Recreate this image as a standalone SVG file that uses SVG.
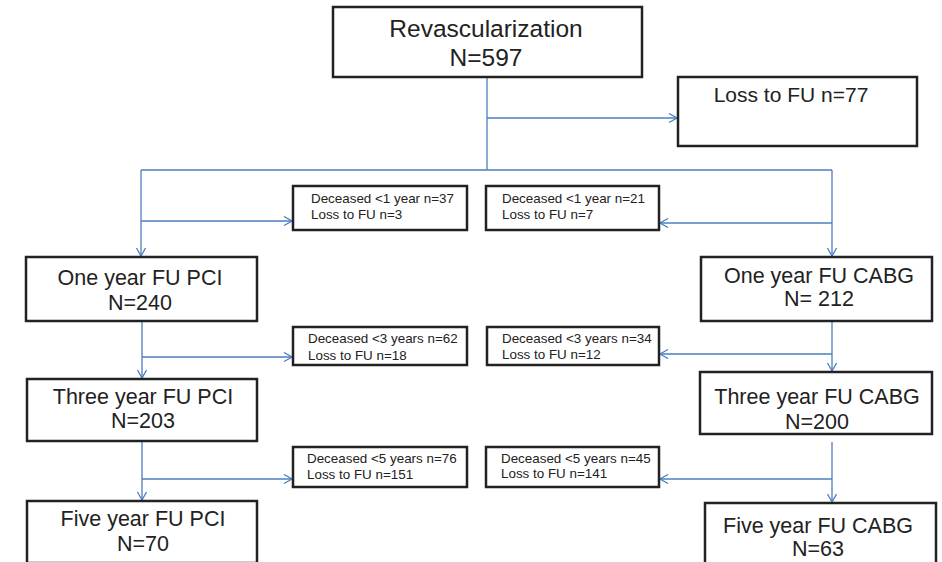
<svg xmlns="http://www.w3.org/2000/svg" width="942" height="562" viewBox="0 0 942 562">
<style>
.box{fill:#fff;stroke:#222;stroke-width:2.5}
.big{font-family:"Liberation Sans",Arial,sans-serif;font-size:21.5px;fill:#222;text-anchor:middle}
.top{font-family:"Liberation Sans",Arial,sans-serif;font-size:24.5px;fill:#222;text-anchor:middle}
.loss{font-family:"Liberation Sans",Arial,sans-serif;font-size:21px;fill:#222;text-anchor:middle}
.sm{font-family:"Liberation Sans",Arial,sans-serif;font-size:13.4px;fill:#222}
.c{fill:none;stroke:#4a7fc1;stroke-width:1.3}
</style>
<defs>
<marker id="ah" markerUnits="userSpaceOnUse" markerWidth="12" markerHeight="12" refX="9" refY="5" orient="auto">
<path d="M1,0.5 L9,5 L1,9.5" fill="none" stroke="#4a7fc1" stroke-width="1.3"/>
</marker>
</defs>
<rect width="942" height="562" fill="#fff"/>
<g id="connectors">
<path class="c" d="M487,77 V170"/>
<path class="c" d="M487,118 H677" marker-end="url(#ah)"/>
<path class="c" d="M141,170 H832"/>
<path class="c" d="M141,170 V256" marker-end="url(#ah)"/>
<path class="c" d="M141,221 H292" marker-end="url(#ah)"/>
<path class="c" d="M832,170 V256" marker-end="url(#ah)"/>
<path class="c" d="M832,223 H660" marker-end="url(#ah)"/>
<path class="c" d="M142,321 V378" marker-end="url(#ah)"/>
<path class="c" d="M142,357 H292" marker-end="url(#ah)"/>
<path class="c" d="M832,321 V371" marker-end="url(#ah)"/>
<path class="c" d="M832,354 H660" marker-end="url(#ah)"/>
<path class="c" d="M142,441 V500" marker-end="url(#ah)"/>
<path class="c" d="M142,479 H292" marker-end="url(#ah)"/>
<path class="c" d="M832,442 V502" marker-end="url(#ah)"/>
<path class="c" d="M832,479 H660" marker-end="url(#ah)"/>
</g>
<g id="revasc">
<rect class="box" x="333" y="7" width="309" height="70"/>
<text class="top" x="486" y="37">Revascularization</text>
<text class="top" x="486" y="66">N=597</text>
</g>
<g id="loss77">
<rect class="box" x="678" y="77" width="239" height="69"/>
<text class="loss" x="791" y="102">Loss to FU n=77</text>
</g>
<g id="dec1pci">
<rect class="box" x="293" y="186" width="174" height="44"/>
<text class="sm" x="311" y="203">Deceased &lt;1 year n=37</text>
<text class="sm" x="311" y="219">Loss to FU n=3</text>
</g>
<g id="dec1cabg">
<rect class="box" x="486" y="186" width="173" height="44"/>
<text class="sm" x="502" y="203">Deceased &lt;1 year n=21</text>
<text class="sm" x="502" y="219">Loss to FU n=7</text>
</g>
<g id="pci1">
<rect class="box" x="26" y="257" width="231" height="64"/>
<text class="big" x="140" y="285">One year FU PCI</text>
<text class="big" x="140" y="310">N=240</text>
</g>
<g id="cabg1">
<rect class="box" x="701" y="257" width="231" height="64"/>
<text class="big" x="819" y="283">One year FU CABG</text>
<text class="big" x="819" y="306">N= 212</text>
</g>
<g id="dec3pci">
<rect class="box" x="293" y="327" width="174" height="38"/>
<text class="sm" x="308" y="343">Deceased &lt;3 years n=62</text>
<text class="sm" x="308" y="360">Loss to FU n=18</text>
</g>
<g id="dec3cabg">
<rect class="box" x="487" y="327" width="172" height="38"/>
<text class="sm" x="502" y="343">Deceased &lt;3 years n=34</text>
<text class="sm" x="502" y="359">Loss to FU n=12</text>
</g>
<g id="pci3">
<rect class="box" x="27" y="379" width="230" height="62"/>
<text class="big" x="143" y="404">Three year FU PCI</text>
<text class="big" x="143" y="428">N=203</text>
</g>
<g id="cabg3">
<rect class="box" x="700" y="372" width="232" height="62"/>
<text class="big" x="817" y="404">Three year FU CABG</text>
<text class="big" x="817" y="429">N=200</text>
</g>
<g id="dec5pci">
<rect class="box" x="293" y="447" width="174" height="40"/>
<text class="sm" x="307" y="463">Deceased &lt;5 years n=76</text>
<text class="sm" x="307" y="479">Loss to FU n=151</text>
</g>
<g id="dec5cabg">
<rect class="box" x="486" y="447" width="173" height="40"/>
<text class="sm" x="501" y="463">Deceased &lt;5 years n=45</text>
<text class="sm" x="501" y="478">Loss to FU n=141</text>
</g>
<g id="pci5">
<rect class="box" x="27" y="501" width="230" height="62"/>
<text class="big" x="143" y="526">Five year FU PCI</text>
<text class="big" x="143" y="551">N=70</text>
</g>
<g id="cabg5">
<rect class="box" x="705" y="503" width="231" height="62"/>
<text class="big" x="818" y="533">Five year FU CABG</text>
<text class="big" x="818" y="556">N=63</text>
</g>
</svg>
